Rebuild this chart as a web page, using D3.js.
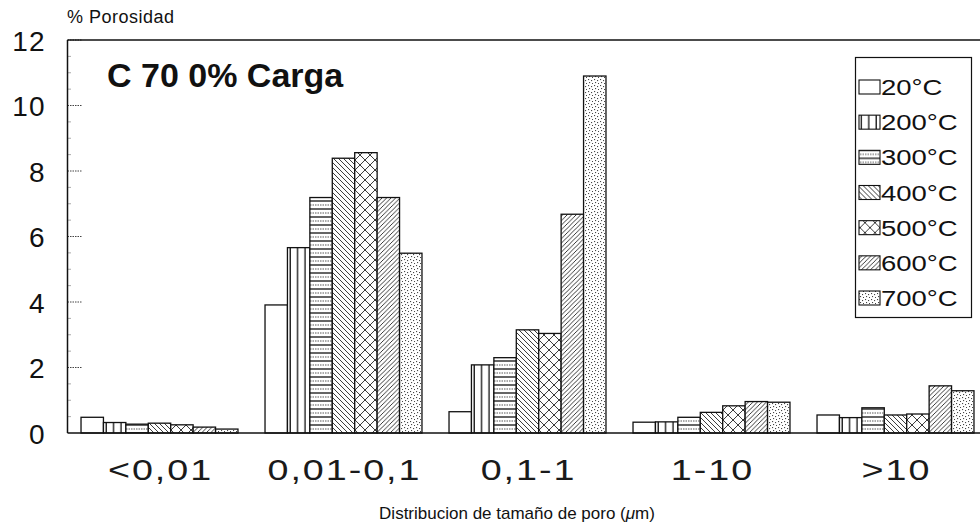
<!DOCTYPE html>
<html><head><meta charset="utf-8">
<script src="https://cdn.jsdelivr.net/npm/d3@7"></script>
<style>body{margin:0;background:#fff}svg{display:block;font-family:"Liberation Sans",Arial,sans-serif}</style>
</head><body><svg id="c" width="980" height="531"></svg>
<script>
const categories = ["<0,01","0,01-0,1","0,1-1","1-10",">10"];
const seriesNames = ["20ºC","200ºC","300ºC","400ºC","500ºC","600ºC","700ºC"];
const s20  = [0.48, 3.91, 0.65, 0.33, 0.55];
const s200 = [0.32, 5.66, 2.08, 0.34, 0.47];
const s300 = [0.27, 7.19, 2.30, 0.48, 0.77];
const s400 = [0.30, 8.39, 3.15, 0.63, 0.55];
const s500 = [0.25, 8.56, 3.04, 0.83, 0.58];
const s600 = [0.18, 7.19, 6.68, 0.96, 1.44];
const s700 = [0.12, 5.49, 10.9, 0.94, 1.29];
const seriesValues = [s20,s200,s300,s400,s500,s600,s700];
const yTicks = [0,2,4,6,8,10,12];

const svg = d3.select("#c");
const L = 67.5, T = 40, B = 433, R = 980;
const x0 = d3.scaleBand().domain(categories).range([L, L+920]).paddingInner(0.147).paddingOuter(0.0735);
const x1 = d3.scaleBand().domain(seriesNames).range([0, x0.bandwidth()]);
const y = d3.scaleLinear().domain([0,12]).range([B, T]);

// patterns
const defs = svg.append("defs");
function pat(id,w,h,draw){const p=defs.append("pattern").attr("id",id).attr("patternUnits","userSpaceOnUse").attr("width",w).attr("height",h);
  p.append("rect").attr("width",w).attr("height",h).attr("fill","#fff");draw(p);}
pat("p0",4,4,p=>{});
pat("p1",7.4,10,p=>{p.append("line").attr("x1",3).attr("x2",3).attr("y1",0).attr("y2",10).attr("stroke","#111").attr("stroke-width",1.3);});
pat("p2",10,8,p=>{p.append("line").attr("x1",0).attr("x2",10).attr("y1",1).attr("y2",1).attr("stroke","#111").attr("stroke-width",1.3);
  p.append("line").attr("x1",0).attr("x2",10).attr("y1",5).attr("y2",5).attr("stroke","#555").attr("stroke-width",1).attr("stroke-dasharray","1.5,1");});
pat("p3",5,5,p=>{p.append("path").attr("d","M-1,-1L6,6M-1,4L1,6M4,-1L6,1").attr("stroke","#222").attr("stroke-width",0.9);});
pat("p4",10,10,p=>{p.append("path").attr("d","M0,0L10,10M10,0L0,10").attr("stroke","#222").attr("stroke-width",0.9);});
pat("p5",4.5,4.5,p=>{p.append("path").attr("d","M-1,5.5L5.5,-1M-1,1L1,-1M3.5,5.5L5.5,3.5").attr("stroke","#222").attr("stroke-width",0.9);});
pat("p6",6,6,p=>{[[1,1],[4,2],[2,4],[5,5]].forEach(([a,b])=>p.append("rect").attr("x",a).attr("y",b).attr("width",1.1).attr("height",1.1).attr("fill","#444"));});

// y axis minor/major ticks
const minor = d3.range(0.5,12,0.5).filter(v=>v%2!==0);
svg.append("g").selectAll("line").data(minor).join("line")
  .attr("x1",L).attr("x2",L+4).attr("y1",d=>y(d)).attr("y2",d=>y(d)).attr("stroke","#555").attr("stroke-dasharray","1,1");
svg.append("g").selectAll("line").data(yTicks.slice(1)).join("line")
  .attr("x1",L).attr("x2",L+14).attr("y1",d=>y(d)).attr("y2",d=>y(d)).attr("stroke","#444").attr("stroke-dasharray","1.5,1");
const ya = d3.axisLeft(y).tickValues(yTicks).tickSize(0).tickPadding(22);
const yg = svg.append("g").attr("transform",`translate(${L},0)`).call(ya);
yg.select(".domain").remove();
yg.selectAll("text").attr("font-size",28).attr("letter-spacing",1).attr("font-family","Liberation Sans, Arial, sans-serif").attr("fill","#111").attr("dy","0.36em");

// bars
const groups = svg.append("g").selectAll("g").data(categories).join("g").attr("transform",d=>`translate(${x0(d)},0)`);
groups.selectAll("rect").data((c,ci)=>seriesNames.map((s,si)=>({s,si,v:seriesValues[si][ci]}))).join("rect")
  .attr("x",d=>x1(d.s)).attr("width",x1.bandwidth()).attr("y",d=>y(d.v)).attr("height",d=>B-y(d.v))
  .attr("fill",d=>`url(#p${d.si})`).attr("stroke","#111").attr("stroke-width",1.3);

// frame
svg.append("line").attr("x1",L).attr("x2",L).attr("y1",T).attr("y2",B).attr("stroke","#111").attr("stroke-width",1.5);
svg.append("line").attr("x1",L).attr("x2",R).attr("y1",T).attr("y2",T).attr("stroke","#111").attr("stroke-width",1.5);
svg.append("line").attr("x1",L).attr("x2",R).attr("y1",B).attr("y2",B).attr("stroke","#111").attr("stroke-width",1.5);

// x labels
const xa = d3.axisBottom(x0).tickSize(0).tickPadding(26);
const xg = svg.append("g").attr("transform",`translate(0,${B})`).call(xa);
xg.select(".domain").remove();
xg.selectAll("text").attr("font-size",29).attr("letter-spacing",1.5).attr("dx",0.75).attr("transform","scale(1.3,1)").attr("font-family","Liberation Sans, Arial, sans-serif").attr("fill","#1a1a1a");

// texts
svg.append("text").attr("x",67).attr("y",23).attr("font-size",18).attr("letter-spacing",0.5).attr("fill","#111").text("% Porosidad");
svg.append("text").attr("x",107).attr("y",87).attr("font-size",34).attr("font-weight","bold").attr("fill","#111").text("C 70 0% Carga");
const xt = svg.append("text").attr("x",517).attr("y",519).attr("text-anchor","middle").attr("font-size",17).attr("fill","#111");
xt.append("tspan").text("Distribucion de tamaño de poro (");
xt.append("tspan").attr("font-style","italic").text("μ");
xt.append("tspan").text("m)");

// legend
const lg = svg.append("g");
lg.append("rect").attr("x",855.5).attr("y",57.5).attr("width",116).attr("height",260).attr("fill","#fff").attr("stroke","#111").attr("stroke-width",1.2);
const ly = d3.scalePoint().domain(seriesNames).range([87,298]);
const li = lg.selectAll("g").data(seriesNames).join("g").attr("transform",d=>`translate(0,${ly(d)})`);
li.append("rect").attr("x",859).attr("y",-7).attr("width",21).attr("height",14).attr("fill",(d,i)=>`url(#p${i})`).attr("stroke","#111").attr("stroke-width",1.1);
li.append("text").attr("transform","translate(881,8) scale(1.25,1)").attr("font-size",22).attr("fill","#111").text(d=>d.replace("º","°"));
</script></body></html>
